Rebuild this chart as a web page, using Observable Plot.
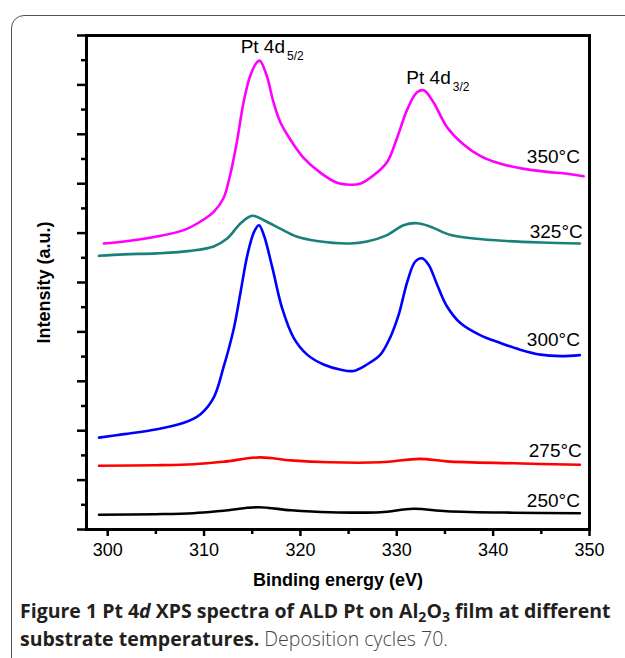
<!DOCTYPE html>
<html>
<head>
<meta charset="utf-8">
<script src="https://cdn.jsdelivr.net/npm/d3@7"></script>
<script src="https://cdn.jsdelivr.net/npm/@observablehq/plot@0.6"></script>
<style>
  html, body { margin: 0; padding: 0; background: #fff; }
  body { width: 625px; height: 658px; overflow: hidden; position: relative; }
  #box { position: absolute; left: 11px; top: 15px; width: 700px; height: 700px;
         border: 1.5px solid #555; border-radius: 13px; box-sizing: border-box; }
  #chart { position: absolute; left: 0; top: 0; }
  #caption { position: absolute; left: 20px; top: 597px; font-family: "Open Sans", sans-serif;
             font-size: 19.5px; line-height: 28px; color: #231f20; white-space: nowrap; }
  #caption b { font-weight: 700; }
  #caption .plain { color: #444; font-weight: 300; }
  sub { font-size: 0.72em; line-height: 0; vertical-align: -0.3em; }
</style>
</head>
<body>
<div id="box"></div>
<div id="chart"></div>
<div id="caption"><b>Figure 1 Pt 4<i>d</i> XPS spectra of ALD Pt on Al<sub>2</sub>O<sub>3</sub> film at different<br>substrate temperatures.</b> <span class="plain">Deposition cycles 70.</span></div>
<script>
// Binding energy (eV) and intensity (a.u.), per deposition temperature
const e350 = [299.6, 301.7, 305.1, 307.9, 309.6, 311.0, 312.0, 312.7, 313.4, 314.1, 314.8, 315.5, 315.8, 316.5, 317.2, 317.9, 319.0, 320.3, 322.1, 323.8, 325.2, 326.2, 327.6, 329.0, 330.0, 331.1, 332.1, 332.8, 333.8, 335.2, 336.9, 338.7, 340.7, 343.2, 345.6, 347.7, 349.4];
const i350 = [5.79, 5.83, 5.93, 6.06, 6.23, 6.43, 6.70, 7.17, 7.84, 8.65, 9.19, 9.46, 9.49, 9.19, 8.65, 8.25, 7.88, 7.53, 7.22, 7.02, 6.98, 7.00, 7.17, 7.44, 7.91, 8.51, 8.85, 8.89, 8.65, 8.15, 7.80, 7.56, 7.41, 7.30, 7.24, 7.20, 7.15];

const e325 = [299.1, 301.7, 305.1, 308.6, 311.0, 312.4, 313.8, 315.0, 316.2, 317.9, 319.6, 321.7, 325.2, 326.9, 329.0, 330.7, 332.1, 333.5, 335.6, 338.0, 341.4, 344.9, 349.0];
const i325 = [5.54, 5.57, 5.59, 5.64, 5.73, 5.89, 6.20, 6.35, 6.26, 6.09, 5.93, 5.84, 5.79, 5.83, 5.96, 6.16, 6.20, 6.13, 5.96, 5.89, 5.84, 5.81, 5.79];

const e300 = [299.1, 301.7, 305.1, 307.9, 309.6, 311.0, 312.0, 313.1, 313.8, 314.5, 315.2, 315.7, 316.2, 317.1, 318.1, 319.3, 320.7, 322.4, 324.1, 325.5, 326.9, 328.3, 329.3, 330.2, 331.1, 331.9, 332.6, 333.3, 334.2, 335.2, 336.6, 338.7, 340.7, 342.8, 344.9, 347.0, 349.0];
const i300 = [1.86, 1.93, 2.03, 2.16, 2.33, 2.67, 3.27, 4.08, 4.82, 5.56, 6.03, 6.16, 5.96, 5.29, 4.48, 3.88, 3.54, 3.34, 3.24, 3.21, 3.34, 3.54, 3.88, 4.35, 5.02, 5.42, 5.49, 5.36, 4.95, 4.52, 4.18, 3.93, 3.78, 3.64, 3.54, 3.51, 3.53];

const e275 = [299.1, 305.0, 308.9, 312.0, 315.8, 319.0, 323.0, 328.3, 332.4, 335.2, 342.1, 349.0];
const i275 = [1.29, 1.30, 1.32, 1.37, 1.46, 1.40, 1.36, 1.36, 1.43, 1.38, 1.34, 1.31];

const e250 = [299.1, 305.0, 308.9, 312.0, 315.6, 319.0, 323.0, 328.3, 331.7, 335.2, 342.1, 349.0];
const i250 = [0.30, 0.31, 0.33, 0.38, 0.45, 0.39, 0.35, 0.35, 0.42, 0.37, 0.34, 0.33];

const seriesNames = ["350°C", "325°C", "300°C", "275°C", "250°C"];
const seriesColors = ["#ff00ff", "#1a807a", "#0000ff", "#ff0000", "#000000"];
// label anchor (energy, intensity) for each temperature label
const labelEnergy = [349.0, 349.3, 349.0, 349.2, 349.0];
const labelIntensity = [7.54, 6.03, 3.84, 1.59, 0.58];

// peak annotations
const peakMain = ["Pt 4d", "Pt 4d"];
const peakSub = ["5/2", "3/2"];
const peakEnergy = [318.4, 335.6];
const peakIntensity = [9.76, 9.14];

const xTicks = [300, 310, 320, 330, 340, 350];
const xMinor = [305, 315, 325, 335, 345];
const yTicks = [0, 1, 2, 3, 4, 5, 6, 7, 8, 9, 10];
const yMinor = [0.5, 1.5, 2.5, 3.5, 4.5, 5.5, 6.5, 7.5, 8.5, 9.5];

const series = [[e350, i350], [e325, i325], [e300, i300], [e275, i275], [e250, i250]];
const rows = series.flatMap(([es, is], k) => es.map((e, j) => ({energy: e, intensity: is[j], temp: seriesNames[k]})));
const labels = seriesNames.map((t, k) => ({temp: t, energy: labelEnergy[k], intensity: labelIntensity[k]}));
const peaks = peakMain.map((t, k) => ({main: t, sub: peakSub[k], energy: peakEnergy[k], intensity: peakIntensity[k]}));

const chart = Plot.plot({
  width: 625,
  height: 600,
  marginLeft: 86,
  marginRight: 36,
  marginTop: 35,
  marginBottom: 71,
  x: {domain: [297.8, 350]},
  y: {domain: [0, 10]},
  color: {domain: seriesNames, range: seriesColors},
  style: {fontFamily: "'Liberation Sans', Arial, sans-serif", fontSize: "18px", color: "#000", background: "transparent", overflow: "visible"},
  marks: [
    Plot.axisX({ticks: xTicks, tickSize: 7, tickPadding: 7, strokeWidth: 2.5, fontSize: 18,
      label: "Binding energy (eV)", labelAnchor: "center", labelOffset: 56, labelArrow: "none"}),
    Plot.axisX({ticks: xMinor, tickSize: 5, strokeWidth: 2.5, tickFormat: () => "", label: null}),
    Plot.axisY({ticks: yTicks, tickSize: 9, strokeWidth: 2.5, tickFormat: () => "",
      label: "Intensity (a.u.)", labelAnchor: "center", labelOffset: 49, labelArrow: "none", fontSize: 18}),
    Plot.axisY({ticks: yMinor, tickSize: 5, strokeWidth: 2.5, tickFormat: () => "", label: null}),
    Plot.line(rows, {x: "energy", y: "intensity", z: "temp", stroke: "temp", strokeWidth: 2.6, curve: "catmull-rom"}),
    Plot.text(labels, {x: "energy", y: "intensity", text: "temp", textAnchor: "end", lineAnchor: "middle", fontSize: 19, fill: "#000"}),
    Plot.text(peaks, {x: "energy", y: "intensity", text: "main", textAnchor: "end", lineAnchor: "middle", fontSize: 19, fill: "#000"}),
    Plot.text(peaks, {x: "energy", y: "intensity", text: "sub", textAnchor: "start", lineAnchor: "middle", dx: 2, dy: 9, fontSize: 12, fill: "#000"}),
    Plot.frame({strokeWidth: 3, stroke: "#000"})
  ]
});
document.getElementById("chart").appendChild(chart);
d3.select(chart).selectAll('[aria-label="x-axis label"] text, [aria-label="y-axis label"] text').attr("font-weight", "bold");
</script>
</body>
</html>
